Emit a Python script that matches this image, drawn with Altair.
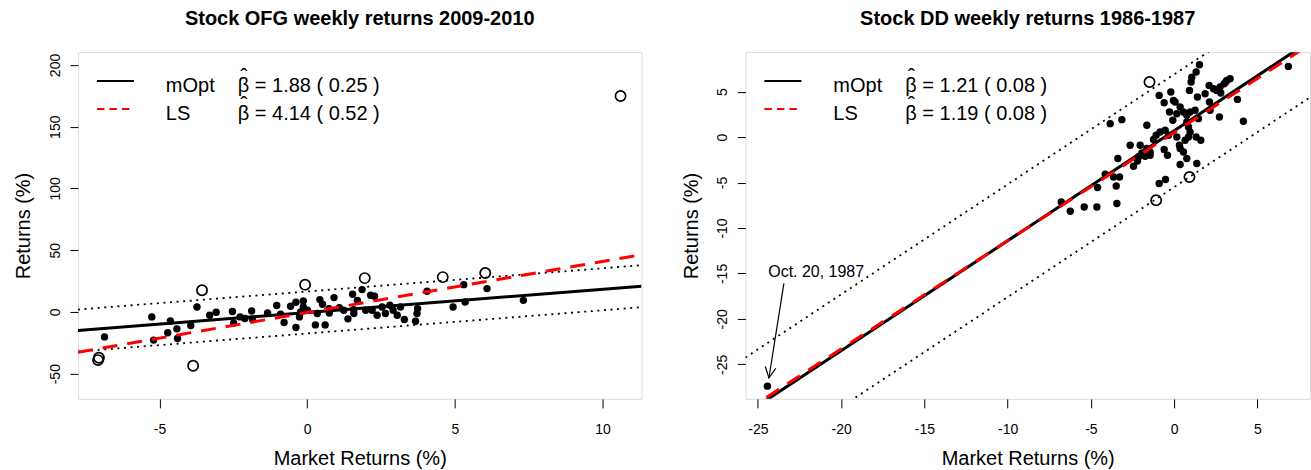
import altair as alt
import pandas as pd

FONT = "Liberation Sans"

# ---------------- Stock OFG 2009-2010 ----------------
ofg_market = [-6.86, -5.26, -5.20, -4.72, -4.63, -4.41, -4.39, -3.94, -3.73, -3.30,
              -3.08, -2.53, -2.49, -2.27, -2.11, -1.88, -1.85, -1.34, -1.03, -0.90,
              -0.78, -0.56, -0.38, -0.38, -0.26, -0.13, -0.13, -0.22, 0.01, 0.28,
              0.34, 0.43, 0.52, 0.61, 0.75, 0.74, 0.91, 1.09, 1.24, 1.38,
              1.54, 1.58, 1.58, 1.70, 1.86, 1.98, 2.15, 2.28, 2.20, 2.37,
              2.54, 2.65, 2.80, 2.91, 3.05, 3.16, 3.29, 3.67, 3.74, 3.72,
              4.06, 4.94, 5.30, 5.35, 6.09, 7.32]
ofg_returns = [-20.2, -4.0, -22.8, -16.9, -7.3, -13.7, -21.5, -11.0, 4.0, -2.7,
               -0.2, 0.3, -8.9, -4.0, -5.3, 0.8, -6.1, -0.8, 5.2, -1.9,
               -8.5, 4.6, 7.8, -12.6, -4.0, 4.0, 8.9, 0.0, 1.4, -10.5,
               -1.3, 10.0, 6.2, -10.5, -0.8, 2.7, 11.6, 3.5, 1.4, -5.6,
               14.3, 1.9, -1.3, 9.4, 18.1, 1.4, 13.5, 12.7, 1.4, -2.7,
               4.0, -1.3, 5.4, 1.4, -2.7, 4.0, -6.1, -7.5, 2.7, -1.3,
               16.7, 4.0, 22.1, 8.1, 18.9, 9.4]
ofg_out_market = [-7.05, -7.08, -3.56, -3.86, -0.07, 1.95, 4.59, 6.03, 10.61]
ofg_out_returns = [-37.1, -39.0, 17.5, -43.5, 22.1, 27.4, 28.2, 31.5, 174.9]

fit_names = ["mOpt", "LS"]
ofg_intercepts = [-0.45, -0.5]
ofg_slopes = [1.88, 4.14]
ofg_band = 17.0
ofg_betas = ["\u03b2 = 1.88 ( 0.25 )", "\u03b2 = 4.14 ( 0.52 )"]
ofg_x_domain = [-7.76, 11.32]
ofg_y_domain = [-70.4, 210.4]
ofg_x_ticks = [-5, 0, 5, 10]
ofg_y_ticks = [-50, 0, 50, 100, 150, 200]

# ---------------- Stock DD 1986-1987 ----------------
dd_market = [1.52, 1.32, 1.06, 1.02, 0.92, 2.10, 1.86, 2.36, 2.56, 2.76,
             3.00, 3.16, 3.36, 3.10, 2.80, 6.86, 3.80, 4.16, 2.72, 2.12,
             2.16, 1.40, 1.46, 1.26, 0.96, 0.76, 0.56, 0.36, 0.06, -0.04,
             -0.20, -0.90, -0.60, -0.28, -0.08, 0.16, 0.76, 0.86, 0.96, 0.86,
             1.32, 1.60, 0.66, 0.16, -0.34, -0.54, -0.84, -1.08, -1.24, -1.64,
             -3.14, -3.84, -2.64, -2.04, -1.64, -1.44, -1.94, -1.74, -2.14, -1.44,
             -3.38, -2.44, -2.20, 0.32, 0.36, 0.56, 0.76, 0.36, 1.36, -0.40,
             -0.60, -4.14, -3.64, -3.28, -3.48, -4.60, -0.90, -0.52, -5.40, -4.64,
             -3.44, -6.78, -6.24, -24.43]
dd_returns = [7.97, 7.16, 6.60, 6.06, 5.14, 5.69, 4.78, 5.33, 5.14, 5.51,
              5.88, 6.24, 6.43, 6.06, 4.85, 7.78, 4.15, 1.74, 2.21, 3.86,
              2.95, 4.41, 2.03, 2.95, 2.76, 2.40, 2.76, 3.31, 3.86, 4.04,
              4.96, 4.59, 3.79, 2.76, 1.85, 2.58, 1.66, 1.11, 0.56, 0.01,
              0.01, -0.35, -0.35, 0.01, 0.20, 0.75, 0.56, 0.20, -0.27, 1.30,
              1.92, 1.48, -0.90, -0.90, -1.26, -1.64, -1.75, -2.11, -2.19, -2.00,
              -2.36, -3.21, -2.63, -0.90, -1.26, -1.64, -2.36, -3.02, -2.91, -2.00,
              -1.37, -4.09, -4.38, -4.38, -5.37, -5.55, -5.11, -4.67, -7.68, -7.68,
              -7.31, -7.13, -8.15, -27.40]
dd_out_market = [-1.48, 0.92, -1.08]
dd_out_returns = [6.06, -4.38, -6.95]

dd_intercepts = [0.7, 0.5]
dd_slopes = [1.21, 1.19]
dd_band = 6.2
dd_betas = ["\u03b2 = 1.21 ( 0.08 )", "\u03b2 = 1.19 ( 0.08 )"]
dd_x_domain = [-25.75, 8.16]
dd_y_domain = [-28.8, 9.35]
dd_x_ticks = [-25, -20, -15, -10, -5, 0, 5]
dd_y_ticks = [-25, -20, -15, -10, -5, 0, 5]

dd_note = "Oct. 20, 1987"
dd_note_xy = [-21.5, -14.8]
dd_arrow_from = [-23.44, -16.1]
dd_arrow_to = [-24.34, -26.5]

H = 347


def x_enc(dom, ticks):
    return alt.X(
        "x:Q",
        scale=alt.Scale(domain=dom, nice=False, zero=False),
        axis=alt.Axis(
            values=ticks, title="Market Returns (%)", grid=False, domain=False,
            tickSize=9, tickColor="black", tickWidth=1,
            labelExpr="'' + datum.value", labelFont=FONT, labelFontSize=14,
            labelColor="black", labelBaseline="alphabetic", labelPadding=26,
            labelFlush=False, labelOverlap=False,
            titleFont=FONT, titleFontSize=20, titleFontWeight="normal",
            titleColor="black", titleBaseline="alphabetic", titleY=66,
        ),
    )


def y_enc(dom, ticks):
    return alt.Y(
        "y:Q",
        scale=alt.Scale(domain=dom, nice=False, zero=False),
        axis=alt.Axis(
            values=ticks, title="Returns (%)", grid=False, domain=False,
            tickSize=8, tickColor="black", tickWidth=1,
            labelExpr="'' + datum.value", labelFont=FONT, labelFontSize=14,
            labelColor="black", labelAngle=270, labelAlign="center",
            labelBaseline="alphabetic", labelPadding=10.5,
            labelFlush=False, labelOverlap=False,
            titleFont=FONT, titleFontSize=20, titleFontWeight="normal",
            titleColor="black", titleAngle=270, titleAlign="center",
            titleBaseline="alphabetic", titleX=-48, titleY=H / 2,
        ),
    )


def panel(title, mkt, ret, omkt, oret, icpt, slope, band, betas,
          xdom, ydom, xt, yt, width, note=None):
    X = x_enc(xdom, xt)
    Y = y_enc(ydom, yt)
    layers = []
    layers.append(
        alt.Chart(pd.DataFrame({"x": mkt, "y": ret}))
        .mark_circle(size=55, color="black", opacity=1)
        .encode(x=X, y=Y)
    )
    layers.append(
        alt.Chart(pd.DataFrame({"x": omkt, "y": oret}))
        .mark_point(shape="circle", filled=False, size=105, strokeWidth=1.7,
                    color="black", opacity=1)
        .encode(x=X, y=Y)
    )
    # dotted band around mOpt fit
    band_rows = []
    for sign, lab in [(1, "upper"), (-1, "lower")]:
        for xv in xdom:
            band_rows.append({"x": xv, "y": icpt[0] + slope[0] * xv + sign * band, "g": lab})
    layers.append(
        alt.Chart(pd.DataFrame(band_rows))
        .mark_line(color="black", strokeWidth=1.8, strokeDash=[2, 4.6], clip=True)
        .encode(x=X, y=Y, detail="g:N")
    )
    styles = [dict(color="black", strokeWidth=3),
              dict(color="#ff0000", strokeWidth=3, strokeDash=[15, 10])]
    for name, a, b, st in zip(fit_names, icpt, slope, styles):
        rows = [{"x": xv, "y": a + b * xv} for xv in xdom]
        layers.append(
            alt.Chart(pd.DataFrame(rows)).mark_line(clip=True, **st).encode(x=X, y=Y)
        )
    # annotation
    if note is not None:
        text, txy, afrom, ato = note
        layers.append(
            alt.Chart(pd.DataFrame({"x": [afrom[0]], "y": [afrom[1]],
                                    "x2": [ato[0]], "y2": [ato[1]]}))
            .mark_rule(color="black", strokeWidth=1.2)
            .encode(x=X, y=Y, x2="x2:Q", y2="y2:Q")
        )
        layers.append(
            alt.Chart(pd.DataFrame({"x": [ato[0]], "y": [ato[1]]}))
            .mark_point(shape="M -0.5 -1 L 0 0 L 0.5 -1", filled=False, size=460,
                        angle=9, strokeWidth=1.2, color="black", opacity=1)
            .encode(x=X, y=Y)
        )
        layers.append(
            alt.Chart(pd.DataFrame({"x": [txy[0]], "y": [txy[1]], "t": [text]}))
            .mark_text(font=FONT, fontSize=16, color="black", align="center",
                       baseline="middle")
            .encode(x=X, y=Y, text="t:N")
        )
    # legend
    one = pd.DataFrame({"a": [0]})
    row_line_y = [29, 57]
    row_text_y = [40, 68]
    row_hat_y = [32, 60]
    leg_styles = [dict(color="black", strokeWidth=2),
                  dict(color="#ff0000", strokeWidth=2, strokeDash=[7.5, 5])]
    for i in range(2):
        layers.append(
            alt.Chart(one).mark_rule(**leg_styles[i]).encode(
                x=alt.value(19), x2=alt.value(56), y=alt.value(row_line_y[i]))
        )
        layers.append(
            alt.Chart(pd.DataFrame({"t": [fit_names[i]]}))
            .mark_text(font=FONT, fontSize=20, color="black", align="left",
                       baseline="alphabetic")
            .encode(x=alt.value(88), y=alt.value(row_text_y[i]), text="t:N")
        )
        layers.append(
            alt.Chart(pd.DataFrame({"t": [betas[i]]}))
            .mark_text(font=FONT, fontSize=20, color="black", align="left",
                       baseline="alphabetic")
            .encode(x=alt.value(160), y=alt.value(row_text_y[i]), text="t:N")
        )
        layers.append(
            alt.Chart(pd.DataFrame({"t": ["\u02c6"]}))
            .mark_text(font=FONT, fontSize=22, color="black", align="center",
                       baseline="alphabetic")
            .encode(x=alt.value(166), y=alt.value(row_hat_y[i]), text="t:N")
        )
    return alt.layer(*layers).properties(
        width=width, height=H,
        title=alt.TitleParams(text=title, font=FONT, fontSize=20, fontWeight="bold",
                              color="black", anchor="middle", offset=7,
                              baseline="alphabetic"),
    )


left = panel("Stock OFG weekly returns 2009-2010", ofg_market, ofg_returns,
             ofg_out_market, ofg_out_returns, ofg_intercepts, ofg_slopes, ofg_band,
             ofg_betas, ofg_x_domain, ofg_y_domain, ofg_x_ticks, ofg_y_ticks, 564)
right = panel("Stock DD weekly returns 1986-1987", dd_market, dd_returns,
              dd_out_market, dd_out_returns, dd_intercepts, dd_slopes, dd_band,
              dd_betas, dd_x_domain, dd_y_domain, dd_x_ticks, dd_y_ticks, 565,
              note=(dd_note, dd_note_xy, dd_arrow_from, dd_arrow_to))

chart = (
    alt.hconcat(left, right, spacing=104, bounds="flush")
    .properties(padding={"left": 13, "top": 8, "right": 0, "bottom": 0})
    .configure_view(stroke="black", strokeWidth=1)
    .configure(background="white")
)

chart.save("out.html", embed_options={"renderer": "svg", "actions": False})
